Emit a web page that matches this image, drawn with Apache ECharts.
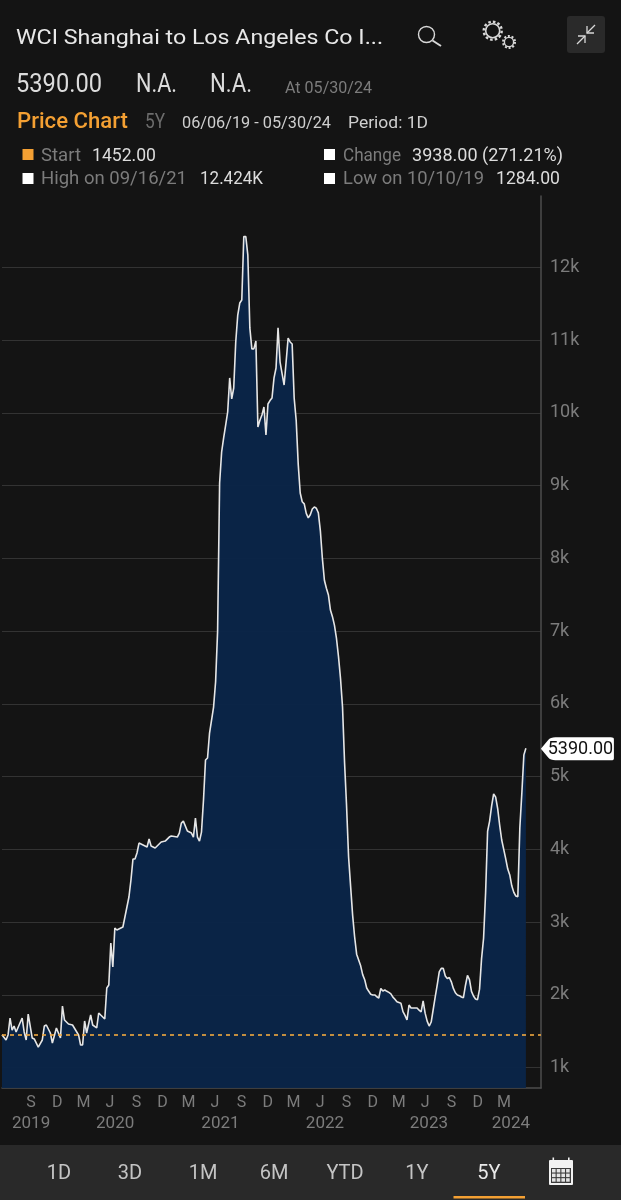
<!DOCTYPE html>
<html><head><meta charset="utf-8">
<style>html,body{margin:0;padding:0;background:#141414}#c{width:621px;height:1200px}</style>
<script src="https://cdn.jsdelivr.net/npm/echarts@6/dist/echarts.min.js"></script>
</head><body><div id="c"></div>
<script>
// week number counted from the first date (06/06/19)
const startDate = '2019-06-06';
const weeks = [0,2,3,4,5,6,7,10,11,12,13,15,16,18,20,21,22,24,25,27,29,30,31,33,35,38,39,40,41,42,44,45,47,48,49,51,52,53,54,55,56,57,60,63,64,65,66,67,68,70,72,73,74,76,79,81,83,84,87,88,89,90,92,94,95,96,97,98,99,
100,101,102,103,105,106,107,108,109,110,111,112,113,114,115,116,117,118,119,120,121,122,123,124,125,126,127,128,129,130,131,132,133,134,135,136,137,138,139,140,141,142,143,144,145,146,147,148,149,
150,151,152,153,154,155,156,157,158,159,160,161,162,163,164,165,166,167,168,169,170,171,172,173,174,175,176,177,178,179,180,181,182,183,184,185,186,187,188,189,190,191,192,193,194,195,196,197,198,199,
200,201,202,203,204,205,206,207,208,209,210,211,212,213,214,215,216,217,218,219,220,221,222,223,224,225,226,227,228,229,230,231,232,233,234,235,236,237,238,239,240,241,242,243,244,245,246,247,248,249,
250,251,252,253,254,255,256,257,258,259,260];
const prices = [1452,1381,1450,1683,1518,1573,1491,1683,1491,1381,1738,1408,1395,1284,1381,1573,1587,1477,1340,1546,1408,1848,1656,1600,1587,1450,1312,1312,1642,1477,1724,1587,1546,1752,1724,1669,2096,2137,2714,2384,2920,2893,2934,3346,3580,3869,3869,3951,4088,4061,4034,4144,4047,4020,4102,4115,4170,4184,4170,4225,4362,4390,4253,4225,4170,4431,4170,4115,4239,
4679,5230,5257,5600,5958,6301,7000,9037,9463,9656,9834,10013,10481,10192,10343,10975,11346,11511,11552,12424,12424,12170,11169,10880,10880,10990,9807,9900,9972,10082,9697,10123,10170,10205,10481,10618,11169,10700,10540,10384,10700,11030,10975,10948,10205,9900,9300,8900,8780,
8750,8620,8557,8600,8680,8708,8690,8626,8380,8000,7700,7590,7498,7290,7200,7080,6900,6650,6350,5958,5200,4600,3900,3500,3100,2800,2560,2480,2400,2280,2210,2096,2050,2010,2000,2000,1975,1958,2090,2054,2068,2050,2035,2015,1970,1940,1905,1895,1885,1770,
1720,1656,1862,1821,1821,1821,1821,1790,1766,1917,1750,1640,1573,1628,1800,1972,2140,2316,2365,2365,2260,2225,2240,2180,2090,2030,2000,1990,1972,1962,2130,2270,2210,2050,1985,1945,1935,2080,2500,2780,3400,4250,4390,4600,4765,4720,4560,4330,4130,4000,
3870,3730,3650,3500,3410,3360,3350,4300,4780,5300,5390];
const startValue = 1452;
const lastValue = 5390;
const yTicks = [1000,2000,3000,4000,5000,6000,7000,8000,9000,10000,11000,12000];
const monthTicks = ['2019-09-01','2019-12-01','2020-03-01','2020-06-01','2020-09-01','2020-12-01','2021-03-01','2021-06-01','2021-09-01','2021-12-01','2022-03-01','2022-06-01','2022-09-01','2022-12-01','2023-03-01','2023-06-01','2023-09-01','2023-12-01','2024-03-01'];
const monthLetters = {8:'S',11:'D',2:'M',5:'J'};
const yearTicks = ['2019-09-15','2020-07-03','2021-07-04','2022-07-02','2023-06-28','2024-04-08'];
const rangeButtons = ['1D','3D','1M','6M','YTD','1Y','5Y'];

const DAY = 86400000, t0 = Date.parse(startDate);
const toTime = w => t0 + w * 7 * DAY;
const xMin = t0, xMax = toTime(267.5);
const FONT = 'Roboto';
const lineData = weeks.map((w, i) => [toTime(w), prices[i]]);

const ctx = document.createElement('canvas').getContext('2d');
// text element; optional target width stretches it horizontally to the reference's narrow-wide metrics
const T = (text, x, y, size, fill, width, align, weight) => {
  const font = (weight || 400) + ' ' + size + 'px ' + FONT;
  ctx.font = font;
  const sx = width ? width / ctx.measureText(text).width : 1;
  return {
    type: 'text', x, y: y + 1.5, scaleX: sx, silent: true, z: 10,
    style: {text, fill, font, textAlign: align || 'left', textVerticalAlign: 'middle'}
  };
};
const R = (x, y, w, h, fill, r) => ({type: 'rect', silent: true, z: 9, shape: {x, y, width: w, height: h, r: r || 0}, style: {fill}});
const P = (points, stroke, lw) => ({type: 'polyline', silent: true, z: 10, shape: {points}, style: {stroke, lineWidth: lw || 1.5, fill: null}});
const C = (cx, cy, r, stroke, lw, dash) => ({type: 'circle', silent: true, z: 10, shape: {cx, cy, r}, style: {stroke, lineWidth: lw, fill: null, lineDash: dash || null}});

const GREY = '#7c7c7c', LIGHT = '#dcdcdc';
const gfx = [
  T('WCI Shanghai to Los Angeles Co I...', 16, 37, 21, '#e8e8e8', 367),
  T('5390.00', 16, 84, 25, LIGHT, 86), T('N.A.', 136, 84, 25, LIGHT, 41), T('N.A.', 210, 84, 25, LIGHT, 42),
  T('At 05/30/24', 285, 87, 16.5, GREY, 87),
  T('Price Chart', 17, 121, 22, '#f4a033', 111, 'left', 500), T('5Y', 145, 121, 20, '#6c6c6c', 20),
  T('06/06/19 - 05/30/24', 182, 122, 16, '#cfcfcf', 149), T('Period: 1D', 348, 122, 16, '#cfcfcf', 80),
  R(22.5, 149, 11, 11, '#f4a033'), T('Start', 41, 155, 17.5, GREY, 40), T('1452.00', 92, 155, 17.5, LIGHT, 64),
  R(324, 149, 11, 11, '#ffffff'), T('Change', 343, 155, 17.5, GREY, 58), T('3938.00 (271.21%)', 412, 155, 17.5, LIGHT, 151),
  R(22.5, 173, 11, 11, '#ffffff'), T('High on 09/16/21', 41, 178, 17.5, GREY, 146), T('12.424K', 200, 178, 17.5, LIGHT, 63),
  R(324, 173, 11, 11, '#ffffff'), T('Low on 10/10/19', 343, 178, 17.5, GREY, 141), T('1284.00', 496, 178, 17.5, LIGHT, 64),
  // search
  C(426.5, 34.5, 8, '#d8d8d8', 1.4), P([[432.5, 40.5], [441, 46]], '#d8d8d8', 2),
  // gears
  C(492.7, 30.7, 7, '#d8d8d8', 1.6), C(492.7, 30.7, 9, '#d8d8d8', 2.4, [2.6, 2.1]),
  C(509, 42, 4.6, '#d8d8d8', 1.4), C(509, 42, 6, '#d8d8d8', 2, [2, 1.77]),
  // collapse button
  R(567, 16, 38, 37, '#2a2a2a', 3),
  P([[577, 44], [585, 36]], '#d8d8d8', 1.3), P([[578, 36], [585, 36], [585, 43]], '#d8d8d8', 1.3),
  P([[595, 25], [587, 33]], '#d8d8d8', 1.3), P([[587, 26], [587, 33], [594, 33]], '#d8d8d8', 1.3),
  // bottom bar
  R(0, 1145, 621, 55, '#292929'),
  R(453.5, 1196, 71.5, 2.5, '#f4a033'),
  // calendar
  R(549, 1160, 24, 25, '#f2f2f2', 1),
  R(552.5, 1157.5, 1.6, 4, '#f2f2f2'), R(568, 1157.5, 1.6, 4, '#f2f2f2'),
  R(551, 1168, 20, 15, '#3c3c3c')
];
for (let r = 0; r < 3; r++) for (let c = 0; c < 4; c++) gfx.push(R(552 + c * 4.7, 1169 + r * 4.6, 3.6, 3.5, '#e4e4e4'));
const navX = [59, 130, 203, 274, 345, 417, 489];
rangeButtons.forEach((b, i) => gfx.push(T(b, navX[i], 1172.5, 20, b === '5Y' ? '#e8e8e8' : '#c4c4c4', 0, 'center')));

const chart = echarts.init(document.getElementById('c'), null, {renderer: 'canvas'});
const xBase = {type: 'value', min: xMin, max: xMax, scale: true, splitLine: {show: false}, axisTick: {show: false}, position: 'bottom', minorTick: {show: false}};
chart.setOption({
  animation: false,
  backgroundColor: '#141414',
  grid: {left: 2, right: 80, top: 196, bottom: 112, containLabel: false},
  xAxis: [
    Object.assign({}, xBase, {
      axisLine: {show: true, onZero: false, lineStyle: {color: '#4c4c4c', width: 1.5}},
      axisLabel: {show: true, customValues: monthTicks.map(d => Date.parse(d)), margin: 7, color: GREY, fontFamily: FONT, fontSize: 16, padding: [0, 0, 0, 8], hideOverlap: false,
        formatter: v => monthLetters[new Date(v).getUTCMonth()]}
    }),
    Object.assign({}, xBase, {
      axisLine: {show: false, onZero: false},
      axisLabel: {show: true, customValues: yearTicks.map(d => Date.parse(d)), margin: 27.5, color: GREY, fontFamily: FONT, fontSize: 17, hideOverlap: false,
        formatter: v => String(new Date(v).getUTCFullYear())}
    })
  ],
  yAxis: {
    type: 'value', position: 'right', min: 721, max: 12982,
    axisLine: {show: true, onZero: false, lineStyle: {color: '#4c4c4c', width: 1.5}},
    axisTick: {show: false, customValues: yTicks},
    splitLine: {show: true, lineStyle: {color: '#333333', width: 1.2}},
    axisLabel: {customValues: yTicks, margin: 9, color: GREY, fontFamily: FONT, fontSize: 18, padding: [2, 0, 0, 0], formatter: v => (v / 1000) + 'k'}
  },
  graphic: gfx,
  series: [{
    type: 'line', data: lineData, showSymbol: false, symbol: 'none', smooth: false, clip: false,
    lineStyle: {color: '#e6e6e6', width: 1.6},
    areaStyle: {color: '#0a2549', opacity: 0.95, origin: 'start'},
    z: 3,
    markLine: {
      silent: true, symbol: 'none', animation: false, label: {show: false}, z: 5,
      lineStyle: {color: '#f0a840', type: [4, 4], width: 1.6, opacity: 1},
      data: [{yAxis: startValue, lineStyle: {color: '#f0a840', type: [4, 4], width: 1.6, opacity: 1}}]
    },
    markPoint: {
      silent: true, animation: false,
      symbol: 'path://M0 50 L10 12 Q13 0 20 0 L96 0 Q100 0 100 8 L100 92 Q100 100 96 100 L20 100 Q13 100 10 88 Z',
      symbolSize: [73, 23], symbolKeepAspect: false,
      data: [{coord: [toTime(260), lastValue], symbolOffset: [51.5, 0.5], value: lastValue}],
      itemStyle: {color: '#ffffff'},
      label: {show: true, position: 'inside', offset: [3, 0.5], color: '#111111', fontFamily: FONT, fontSize: 18, formatter: p => p.value.toFixed(2)}
    }
  }]
});
</script></body></html>
